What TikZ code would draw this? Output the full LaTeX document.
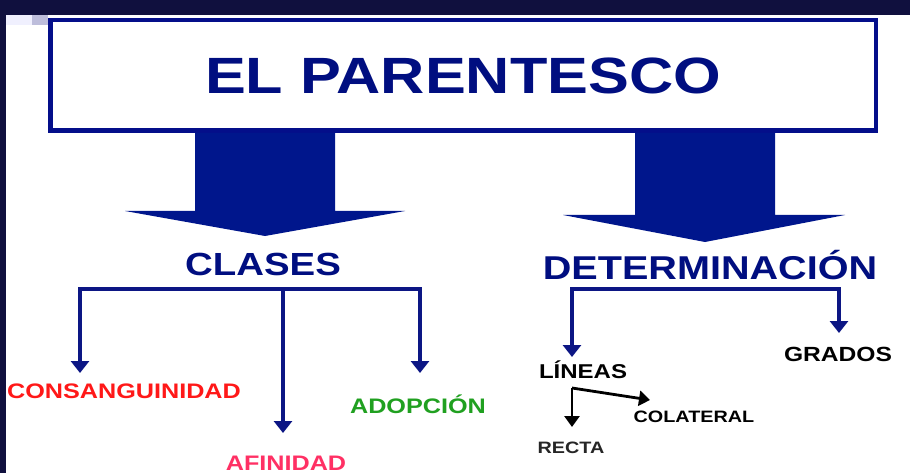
\documentclass[tikz,border=0pt]{standalone}
\usepackage{fontspec}
\setmainfont{Liberation Sans}[FakeStretch=1.2]
\usetikzlibrary{arrows.meta}

\definecolor{framebar}{RGB}{16,16,62}
\definecolor{boxblue}{RGB}{4,14,138}
\definecolor{titleblue}{RGB}{0,14,128}
\definecolor{arrowblue}{RGB}{0,22,140}
\definecolor{linkblue}{RGB}{12,22,132}
\definecolor{consred}{RGB}{255,24,24}
\definecolor{afinpink}{RGB}{255,48,100}
\definecolor{adopgreen}{RGB}{32,160,32}

\tikzset{
  lbl/.style={anchor=base,inner sep=0pt},
  titlebox/.style={draw=boxblue,line width=4.5pt,fill=white,inner sep=0pt,
    minimum width=825.5pt,minimum height=110.5pt,text=titleblue,
    font=\fontsize{51}{51}\selectfont\bfseries},
  branch/.style={linkblue,line width=4pt},
  bigtip/.style={-{Triangle[width=18pt,length=12pt]}},
  twotip/.style={{Triangle[width=18pt,length=12pt]}-{Triangle[width=18pt,length=12pt]}},
  twig/.style={black,line width=2.8pt,-{Triangle[width=15pt,length=11pt]}}
}

\newcommand{\lblfont}[1]{\fontsize{#1}{#1}\selectfont\bfseries}

\begin{document}
\begin{tikzpicture}[x=1pt,y=-1pt]
\useasboundingbox (0,0) rectangle (910,473);
\fill[white] (0,0) rectangle (910,473);

% frame
\fill[framebar] (0,0) rectangle (910,15);
\fill[framebar] (0,0) rectangle (6,473);
\fill[black!8!blue!6] (6,15) rectangle (32,25);
\fill[blue!30!gray!40] (32,15) rectangle (48,25);

% title
\node[titlebox] (title) at (463,75.5) {EL PARENTESCO};

% block arrows
\fill[arrowblue] (195,133) -- (335,133) -- (335,211) -- (405,211) -- (265,236)
  -- (125,211) -- (195,211) -- cycle;
\fill[arrowblue] (635,133) -- (775,133) -- (775,215) -- (845,215) -- (705,242)
  -- (563,215) -- (635,215) -- cycle;

% headings
\node[lbl,text=titleblue,font=\lblfont{32}] (clases) at (263,275) {CLASES};
\node[lbl,text=titleblue,font=\lblfont{33}] (determ) at (710,279) {DETERMINACIÓN};

% clases
\node[lbl,text=consred,font=\lblfont{21}] (consang) at (124,398) {CONSANGUINIDAD};
\node[lbl,text=afinpink,font=\lblfont{21}] (afin) at (286,470) {AFINIDAD};
\node[lbl,text=adopgreen,font=\lblfont{21}] (adop) at (418,413) {ADOPCIÓN};

\coordinate (clsL) at (80,289);
\coordinate (clsM) at (283,289);
\coordinate (clsR) at (420,289);
\coordinate (consTip) at (80,373);
\coordinate (afinTip) at (283,433);
\coordinate (adopTip) at (420,373);
\draw[branch,twotip] (consTip) -- (clsL) -- (clsR) -- (adopTip);
\draw[branch,bigtip] (clsM) -- (afinTip);

% determinacion
\node[lbl,font=\lblfont{20}] (lineas) at (583,378) {LÍNEAS};
\node[lbl,font=\lblfont{20.5}] (grados) at (838,361) {GRADOS};
\node[lbl,font=\lblfont{16.5}] (colat) at (694,422) {COLATERAL};
\node[lbl,text=black!85,font=\lblfont{16.5}] (recta) at (571,453) {RECTA};

\coordinate (detL) at (572,289);
\coordinate (detR) at (839,289);
\coordinate (linTip) at (572,357);
\coordinate (graTip) at (839,333);
\draw[branch,twotip] (linTip) -- (detL) -- (detR) -- (graTip);

\coordinate (linCorner) at (572,388);
\coordinate (recTip) at (572,427);
\coordinate (colTip) at (650,400);
\draw[twig] (linCorner) -- (recTip);
\draw[twig] (linCorner) -- (colTip);
\end{tikzpicture}
\end{document}
